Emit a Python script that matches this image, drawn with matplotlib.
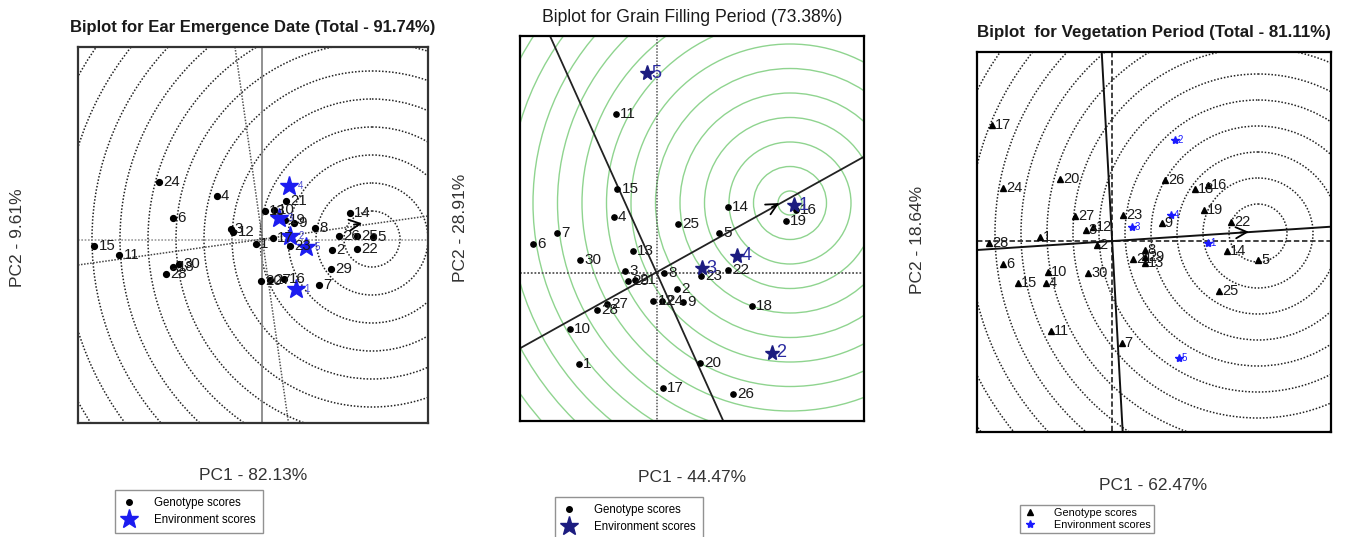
import numpy as np
import matplotlib.pyplot as plt
from matplotlib.patches import Circle
from matplotlib.lines import Line2D

plt.rcParams['font.family'] = ['Liberation Sans', 'DejaVu Sans']

W, H = 1349, 537

# values (picture units, y grows downwards)
# --- Ear emergence date
ee_gen_lab = ['24', '4', '6', '3', '12', '15', '11', '30', '18', '28', '21', '13', '10', '19', '9',
              '8', '26', '25', '5', '14', '2', '22', '29', '7', '16', '20', '27', '1', '17', '23']
ee_gen_x = [159, 216.7, 173.3, 230.7, 233.3, 94.3, 119.3, 179, 173.3, 165.7, 286, 265, 274, 285, 294.3,
            315, 339.3, 356.7, 372.7, 350, 331.7, 356.7, 331, 319.3, 284.3, 261, 270, 256, 272.7, 290]
ee_gen_y = [182, 196, 218.3, 229.3, 231.7, 246, 255.3, 264, 266.7, 274, 201, 210.7, 210, 220, 222.7,
            227.7, 235.7, 236, 236.7, 212.7, 250, 248.7, 269, 285, 279, 280.7, 280, 244, 238.3, 246]
ee_env_lab = ['1', '2', '3', '4', '5']
ee_env_x = [296, 290, 279, 289.3, 306]
ee_env_y = [289.3, 236, 218.3, 185.7, 247.3]

# --- Grain filling period
gf_gen_lab = [str(i) for i in range(1, 31)]
gf_gen_x = [579, 676.7, 625, 613.7, 719.3, 532.7, 556.7, 664, 683.3, 570, 615.7, 653.3, 632.7, 727.7, 617.3,
            796, 662.7, 751.7, 786, 700, 635, 728.3, 700.7, 661.7, 678.3, 732.7, 606.7, 597.3, 628.3, 580]
gf_gen_y = [364.3, 289.3, 270.7, 217.3, 233.3, 243.7, 232.7, 273.3, 302.3, 328.7, 114.3, 300.7, 250.7, 207, 189.3,
            210, 388.3, 306, 220.7, 363.3, 280, 270, 275.7, 300.7, 223.7, 393.7, 304, 310, 281, 260]
gf_env_lab = ['1', '2', '3', '4', '5']
gf_env_x = [794.3, 771.7, 701.7, 737.3, 646.7]
gf_env_y = [205, 352.7, 268.3, 255.7, 73.3]

# --- Vegetation period
vp_gen_lab = [str(i) for i in range(1, 31)]
vp_gen_x = [1040, 1096.7, 1085.7, 1046, 1258.3, 1003.3, 1121.7, 1145, 1161.7, 1047.7, 1051, 1093.3, 1145, 1226.7, 1018.3,
            1208.3, 992.3, 1195, 1204.3, 1060, 1133.3, 1231, 1123.3, 1003.3, 1219, 1165, 1075, 989, 1145, 1088.3]
vp_gen_y = [237.3, 245, 230, 282.7, 260, 264, 342.7, 250, 222.7, 271.7, 331, 226.7, 263.3, 251, 282.7,
            185.3, 125, 189.3, 210, 179, 259.3, 222, 215, 188.3, 291, 180, 215.7, 242.7, 256.7, 272.7]
vp_env_lab = ['1', '2', '3', '4', '5']
vp_env_x = [1207.7, 1175, 1131.7, 1171, 1179]
vp_env_y = [243.3, 140, 227.3, 215, 358.3]


def box(l, t, r, b):
    return [l / W, 1 - b / H, (r - l) / W, (b - t) / H]


def panel(fig, l, t, r, b, frame_col='k'):
    ax = fig.add_axes(box(l, t, r, b))
    ax.set_xlim(l, r)
    ax.set_ylim(b, t)
    ax.set_xticks([])
    ax.set_yticks([])
    for s in ax.spines.values():
        s.set_linewidth(1.6)
        s.set_color(frame_col)
    return ax


def rings(ax, cx, cy, radii, **kw):
    for rr in radii:
        ax.add_patch(Circle((cx, cy), rr, fill=False, **kw))


def arrow(ax, hx, hy, dx, dy):
    n = np.hypot(dx, dy)
    ax.annotate('', xy=(hx, hy), xytext=(hx - 14 * dx / n, hy - 14 * dy / n),
                arrowprops=dict(arrowstyle='->', lw=1.3, color='k', mutation_scale=20), zorder=6)


def labels(ax, xs, ys, labs, size, color, dx=3):
    for x, y, s in zip(xs, ys, labs):
        ax.annotate(s, (x, y), xytext=(dx, 0), textcoords='offset points',
                    fontsize=size, color=color, va='center', ha='left', zorder=7)


fig = plt.figure(figsize=(W / 100, H / 100), dpi=100)

# ---------------- panel 1
ax1 = panel(fig, 78, 47, 428, 423, '#333333')
rings(ax1, 372, 239, 28 * np.arange(1, 13), ls=(0, (1, 1.2)), lw=1.1, ec='#222222')
ax1.plot([262, 262], [47, 423], color='#888888', lw=1.3)
ax1.plot([78, 428], [240, 240], color='#999999', lw=1.2, ls=(0, (1, 1)))
ax1.plot([78, 428], [265, 216], color='#444444', lw=1.1, ls=(0, (1, 1)))
ax1.plot([235, 288.5], [47, 423], color='#555555', lw=1.1, ls=(0, (1, 1)))
arrow(ax1, 365, 223, 1, -0.14)
ax1.plot(ee_gen_x, ee_gen_y, 'o', color='k', ms=4.2, zorder=5)
ax1.plot(ee_env_x, ee_env_y, '*', color='#1c1cf0', ms=14, zorder=6)
labels(ax1, ee_gen_x, ee_gen_y, ee_gen_lab, 10.8, '#1a1a1a')
labels(ax1, ee_env_x, ee_env_y, ee_env_lab, 7, '#4a4ad0', dx=6)

# ---------------- panel 2
ax2 = panel(fig, 520, 36, 864, 421)
rings(ax2, 790, 203, 12 + 24.5 * np.arange(0, 16), ls='-', lw=1.0, ec='#8fd48f')
ax2.plot([656.7, 656.7], [36, 421], color='#555555', lw=1.1, ls=(0, (1, 1)))
ax2.plot([520, 864], [273.3, 273.3], color='#555555', lw=1.3, ls=(0, (1, 1)))
ax2.plot([520, 864], [348.3, 156.7], color='#222222', lw=1.3)
ax2.plot([550, 723.3], [36, 421], color='#222222', lw=1.3)
arrow(ax2, 781.7, 201.7, 1, -0.557)
ax2.plot(gf_gen_x, gf_gen_y, 'o', color='k', ms=3.8, zorder=5)
ax2.plot(gf_env_x, gf_env_y, '*', color='#1c1c80', ms=11, zorder=6)
labels(ax2, gf_gen_x, gf_gen_y, gf_gen_lab, 11, '#1a1a1a')
labels(ax2, gf_env_x, gf_env_y, gf_env_lab, 13, '#2a2aa0', dx=3)

# ---------------- panel 3
ax3 = panel(fig, 977, 52, 1331, 432)
rings(ax3, 1258, 233, 29 + 26 * np.arange(0, 13), ls=(0, (1, 1.2)), lw=1.1, ec='#222222')
ax3.plot([1111.7, 1111.7], [52, 432], color='#333333', lw=1.3, ls=(0, (3, 1.5)))
ax3.plot([977, 1331], [240.7, 240.7], color='#333333', lw=1.3, ls=(0, (3, 1.5)))
ax3.plot([977, 1331], [250, 226.7], color='#111111', lw=1.4)
ax3.plot([1101.7, 1122.7], [52, 432], color='#111111', lw=1.4)
arrow(ax3, 1251.7, 231.7, 1, -0.066)
ax3.plot(vp_gen_x, vp_gen_y, '^', color='k', ms=4.5, zorder=5)
ax3.plot(vp_env_x, vp_env_y, '*', color='#1a1aff', ms=6, zorder=6)
labels(ax3, vp_gen_x, vp_gen_y, vp_gen_lab, 10.5, '#1a1a1a', dx=2)
labels(ax3, vp_env_x, vp_env_y, vp_env_lab, 7, '#1a1aff', dx=2)

# ---------------- titles and axis names
fig.text(253 / W, 1 - 28 / H, 'Biplot for Ear Emergence Date (Total - 91.74%)',
         ha='center', va='center', fontsize=12, fontweight='bold', color='#1a1a1a')
fig.text(692 / W, 1 - 17 / H, 'Biplot for Grain Filling Period (73.38%)',
         ha='center', va='center', fontsize=12.7, color='#1a1a1a')
fig.text(1154 / W, 1 - 33 / H, 'Biplot  for Vegetation Period (Total - 81.11%)',
         ha='center', va='center', fontsize=12.2, fontweight='bold', color='#1a1a1a')

for x, y, s in [(253, 475, 'PC1 - 82.13%'), (692, 478, 'PC1 - 44.47%'), (1153, 486, 'PC1 - 62.47%')]:
    fig.text(x / W, 1 - y / H, s, ha='center', va='center', fontsize=12.5, color='#333333')
for x, y, s in [(18, 238, 'PC2 - 9.61%'), (461, 228, 'PC2 - 28.91%'), (918, 240, 'PC2 - 18.64%')]:
    fig.text(x / W, 1 - y / H, s, ha='center', va='center', fontsize=12.5, color='#333333', rotation=90)

# ---------------- legends
leg_spec = [(115, 490, 'o', 4, '#1c1cf0', 14, 8.3, 0.6, 0.45),
            (555, 497, 'o', 4, '#1c1c80', 14, 8.3, 0.6, 0.45),
            (1020, 505, '^', 4.5, '#1a1aff', 6, 7.8, 0.3, 0.15)]
for lx, ly, gm, gms, ec, ems, fs, bp, ls in leg_spec:
    hs = [Line2D([], [], marker=gm, color='k', ls='None', ms=gms),
          Line2D([], [], marker='*', color=ec, ls='None', ms=ems)]
    fig.legend(hs, ['Genotype scores', 'Environment scores'], loc='upper left',
               bbox_to_anchor=(lx / W, 1 - ly / H), fontsize=fs, frameon=True, fancybox=False,
               edgecolor='#777777', handlelength=1.2, handletextpad=1.6, borderpad=bp,
               labelspacing=ls, borderaxespad=0)

fig.savefig('out.png', dpi=100)
